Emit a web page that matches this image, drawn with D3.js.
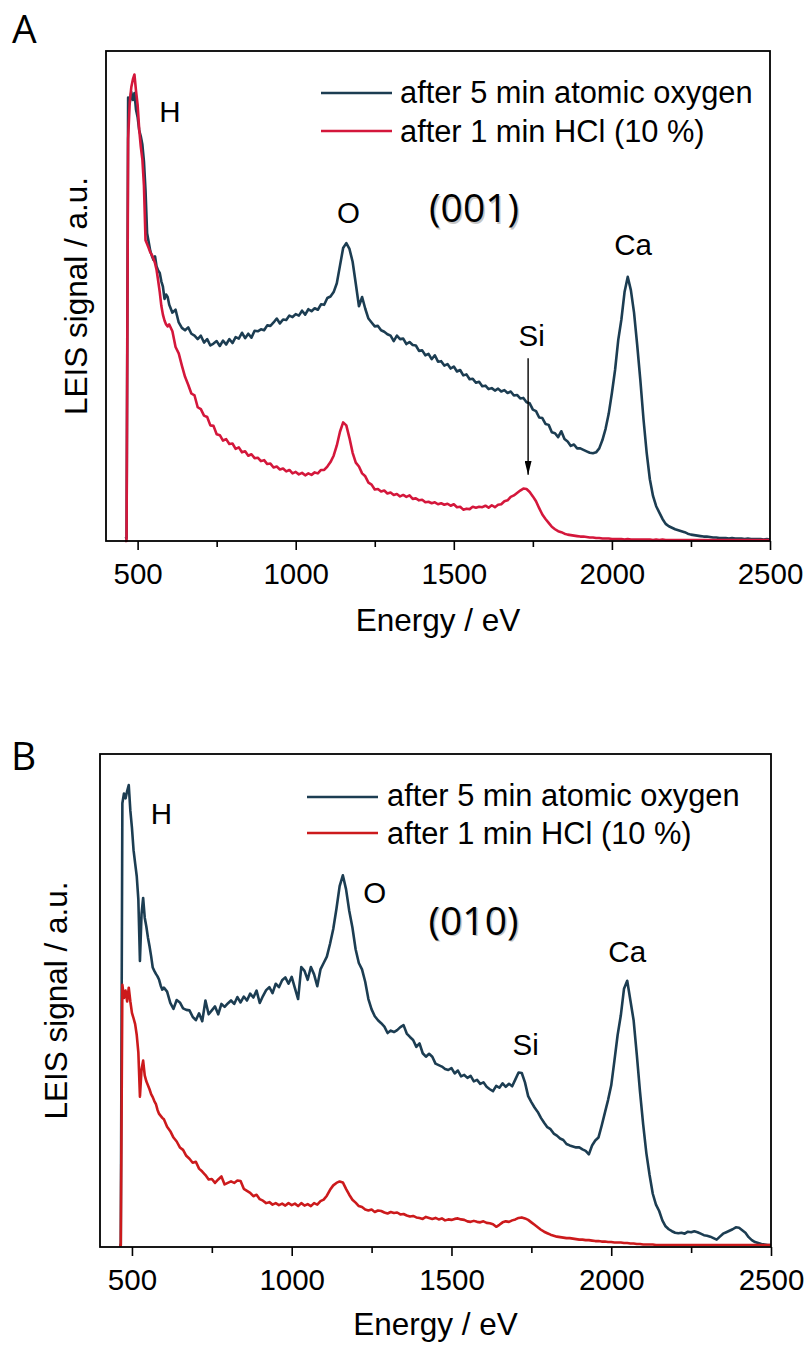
<!DOCTYPE html>
<html>
<head>
<meta charset="utf-8">
<script src="https://cdn.jsdelivr.net/npm/d3@7"></script>
<style>
  body { margin: 0; background: #fff; }
  svg { display: block; }
</style>
</head>
<body>
<svg id="fig" width="810" height="1346"></svg>
<script>
// Energy grid of the LEIS spectra (eV): 5 eV steps across the H edge, 10 eV above
const energyFine = d3.range(460, 600, 5);
const energyCoarse = d3.range(600, 2501, 10);
const energy = energyFine.concat(energyCoarse);

const majorTicks = [500, 1000, 1500, 2000, 2500];
const minorTicks = [750, 1250, 1750, 2250];

const seriesNames = ["after 5 min atomic oxygen", "after 1 min HCl (10 %)"];

// (001) surface, after atomic oxygen
const oxygen001 = [
  0.5, 0.6, 90.5, 89.3, 91.6, 90.0, 91.4, 88.0, 86.5, 83.8,
  82.6, 80.9, 77.5, 71.5, 62.8, 61.0, 59.2, 58.2, 57.4, 58.1,
  56.0, 55.2, 54.7, 53.0, 51.9, 49.4, 50.3, 49.8,
  48.2, 46.6, 47.2, 44.6, 43.5, 43.0, 43.6, 42.3, 41.9, 41.2,   // 600
  41.9, 40.5, 41.2, 39.9, 40.3, 40.8, 39.8, 40.9, 40.1, 41.2,   // 700
  40.4, 41.6, 41.3, 42.5, 41.4, 42.3, 41.5, 42.9, 42.8, 43.2,   // 800
  43.0, 44.0, 43.9, 44.6, 45.4, 44.4, 45.2, 45.1, 46.0, 45.7,   // 900
  46.3, 46.0, 47.0, 46.2, 47.3, 46.9, 47.5, 47.2, 48.3, 48.2,   // 1000
  49.6, 49.9, 50.8, 52.6, 56.2, 59.8, 60.8, 59.6, 57.0, 52.5,   // 1100
  47.9, 49.8, 47.4, 45.4, 44.6, 43.8, 43.9, 43.0, 42.7, 42.2,   // 1200
  41.9, 40.8, 41.9, 41.2, 41.3, 40.2, 40.6, 40.0, 39.9, 38.8,   // 1300
  38.9, 37.9, 38.2, 37.1, 37.9, 36.6, 36.7, 35.8, 36.1, 35.2,   // 1400
  35.6, 34.6, 34.9, 33.8, 34.0, 33.0, 33.1, 32.3, 32.5, 31.6,   // 1500
  31.7, 31.0, 31.2, 30.7, 31.1, 30.5, 30.8, 30.2, 30.5, 29.7,   // 1600
  29.8, 29.1, 29.2, 28.3, 28.1, 26.8, 26.5, 25.2, 25.1, 23.9,   // 1700
  23.7, 22.2, 22.0, 21.2, 22.4, 20.8, 20.3, 19.4, 19.7, 18.9,   // 1800
  18.9, 18.6, 18.3, 18.0, 17.9, 18.1, 18.9, 20.6, 22.9, 26.0,   // 1900
  30.2, 34.9, 41.0, 45.2, 50.8, 53.9, 51.2, 46.6, 40.0, 32.8,   // 2000
  24.8, 18.0, 12.6, 9.2, 7.1, 5.8, 4.5, 3.5, 3.0, 2.7,          // 2100
  2.4, 2.2, 2.0, 1.8, 1.5, 1.3, 1.2, 1.1, 1.0, 0.9,             // 2200
  0.9, 0.8, 0.7, 0.7, 0.6, 0.6, 0.6, 0.5, 0.6, 0.5,             // 2300
  0.5, 0.5, 0.4, 0.5, 0.4, 0.4, 0.4, 0.4, 0.3, 0.4,             // 2400
  0.3
];

// (001) surface, after HCl etch
const hcl001 = [
  0.0, 0.0, 82.0, 89.5, 92.6, 94.2, 95.2, 91.8, 89.0, 84.0,
  80.5, 77.9, 72.5, 61.4, 60.6, 59.8, 58.9, 58.4, 57.6, 56.7,
  55.3, 53.1, 50.8, 48.0, 46.2, 45.0, 44.2, 43.8,
  44.2, 42.8, 39.6, 38.3, 35.8, 33.5, 31.9, 30.1, 29.7, 27.3,   // 600
  26.9, 25.6, 25.3, 23.6, 23.5, 21.8, 21.6, 20.5, 20.8, 19.8,   // 700
  19.9, 18.8, 19.1, 18.1, 18.3, 17.4, 17.7, 16.9, 17.0, 16.3,   // 800
  16.5, 15.7, 15.8, 15.0, 15.2, 14.6, 14.8, 14.2, 14.5, 13.8,   // 900
  14.1, 13.6, 13.9, 13.4, 13.8, 13.5, 14.0, 13.8, 14.5, 14.5,   // 1000
  15.2, 16.1, 17.4, 19.5, 22.3, 24.2, 23.6, 21.0, 18.0, 16.0,   // 1100
  15.2, 13.8, 13.2, 11.9, 11.5, 10.5, 10.6, 10.1, 10.3, 9.7,    // 1200
  9.9, 9.4, 9.6, 9.1, 9.4, 9.0, 9.3, 8.6, 8.7, 8.3,             // 1300
  8.4, 7.9, 8.0, 7.7, 7.9, 7.5, 7.7, 7.4, 7.6, 7.2,             // 1400
  7.5, 6.9, 7.0, 6.4, 6.6, 6.5, 7.0, 6.8, 7.0, 6.9,             // 1500
  7.2, 6.8, 7.3, 6.9, 7.4, 7.5, 8.1, 8.3, 9.0, 9.3,             // 1600
  9.8, 10.3, 10.7, 10.6, 10.0, 9.1, 8.1, 6.7, 5.4, 4.5,         // 1700
  3.7, 2.9, 2.4, 2.0, 1.8, 1.5, 1.3, 1.2, 1.1, 1.0,             // 1800
  0.9, 0.9, 0.8, 0.7, 0.7, 0.6, 0.6, 0.5, 0.5, 0.5,             // 1900
  0.4, 0.4, 0.4, 0.4, 0.3, 0.4, 0.3, 0.3, 0.3, 0.3,             // 2000
  0.3, 0.3, 0.3, 0.2, 0.3, 0.2, 0.3, 0.2, 0.2, 0.2,             // 2100
  0.2, 0.2, 0.2, 0.2, 0.2, 0.2, 0.2, 0.2, 0.2, 0.2,             // 2200
  0.2, 0.2, 0.2, 0.2, 0.2, 0.2, 0.2, 0.2, 0.2, 0.2,             // 2300
  0.2, 0.2, 0.2, 0.2, 0.2, 0.2, 0.2, 0.2, 0.2, 0.2,             // 2400
  0.2
];

// (010) surface, after atomic oxygen
const oxygen010 = [
  0.4, 0.4, 90.0, 92.0, 91.0, 92.5, 93.7, 88.5, 85.0, 80.5,
  77.8, 75.2, 70.5, 58.0, 67.5, 70.8, 66.8, 65.0, 62.8, 61.0,
  59.0, 56.7, 56.0, 55.4, 54.9, 54.2, 53.0, 52.2,
  52.6, 51.8, 49.5, 48.3, 50.1, 49.6, 48.4, 48.1, 48.0, 46.7,   // 600
  46.0, 47.4, 45.8, 50.0, 47.2, 48.0, 48.8, 47.2, 49.3, 48.7,   // 700
  49.4, 50.0, 49.3, 50.7, 49.6, 50.8, 50.0, 51.4, 50.6, 52.0,   // 800
  49.5, 50.9, 52.1, 52.7, 51.5, 53.4, 52.7, 54.1, 54.7, 53.4,   // 900
  54.8, 52.5, 50.3, 56.8, 56.0, 54.2, 56.8, 55.3, 52.9, 56.3,   // 1000
  57.6, 58.9, 61.5, 64.5, 68.6, 73.2, 75.4, 72.6, 68.2, 64.8,   // 1100
  60.4, 57.6, 56.3, 53.8, 50.3, 48.2, 46.8, 46.0, 45.4, 44.7,   // 1200
  43.4, 43.9, 43.6, 44.0, 44.6, 45.0, 43.3, 42.6, 42.0, 40.6,   // 1300
  41.3, 39.3, 38.6, 39.2, 38.6, 37.2, 36.9, 36.6, 36.1, 35.9,   // 1400
  36.3, 35.2, 35.8, 34.6, 34.9, 34.3, 34.7, 33.6, 33.9, 33.1,   // 1500
  33.4, 32.5, 32.0, 31.6, 32.7, 32.3, 33.2, 32.5, 33.1, 32.6,   // 1600
  34.0, 35.4, 35.3, 33.4, 30.6, 29.4, 28.3, 27.4, 26.2, 25.2,   // 1700
  24.3, 23.9, 23.0, 22.6, 22.0, 21.7, 20.9, 20.6, 20.4, 20.2,   // 1800
  20.2, 19.8, 19.5, 18.8, 20.6, 21.6, 22.2, 24.6, 27.2, 29.8,   // 1900
  32.8, 37.8, 43.0, 47.0, 52.4, 54.0, 50.0, 46.0, 39.0, 31.5,   // 2000
  24.8, 19.0, 14.6, 10.8, 8.6, 7.3, 5.4, 4.2, 3.6, 3.2,         // 2100
  2.9, 2.8, 2.9, 2.7, 3.1, 3.0, 3.2, 3.0, 2.7, 2.4,             // 2200
  2.3, 2.1, 1.8, 1.5, 2.1, 2.7, 3.0, 3.3, 3.6, 4.0,             // 2300
  3.9, 3.4, 2.9, 2.0, 1.4, 1.0, 0.8, 0.6, 0.5, 0.4,             // 2400
  0.4
];

// (010) surface, after HCl etch
const hcl010 = [
  0.3, 0.3, 53.2, 50.5, 52.0, 49.8, 52.6, 49.8, 47.5, 46.4,
  45.2, 43.0, 39.5, 30.5, 36.0, 37.8, 34.8, 33.6, 32.8, 32.0,
  31.0, 30.4, 29.6, 29.0, 27.8, 27.0, 26.6, 26.2,
  25.9, 24.4, 23.5, 22.2, 21.4, 20.2, 19.7, 18.5, 17.9, 17.1,   // 600
  17.3, 15.9, 15.3, 14.6, 13.7, 13.8, 13.0, 13.7, 14.3, 12.7,   // 700
  13.0, 13.3, 13.0, 13.5, 13.4, 11.8, 11.4, 11.0, 10.3, 10.6,   // 800
  9.7, 9.4, 8.9, 9.1, 8.6, 8.9, 8.5, 8.8, 8.4, 8.9,             // 900
  8.5, 8.8, 8.3, 8.9, 8.4, 8.7, 8.3, 8.9, 8.6, 9.3,             // 1000
  9.6, 10.4, 11.6, 12.5, 13.0, 13.3, 13.1, 11.8, 10.6, 9.6,     // 1100
  9.0, 8.3, 8.1, 7.6, 7.4, 7.6, 7.1, 7.4, 7.3, 7.0,             // 1200
  6.8, 7.1, 6.9, 7.0, 6.6, 6.7, 6.4, 6.2, 6.3, 6.0,             // 1300
  5.9, 5.7, 6.1, 5.9, 5.7, 5.9, 5.6, 5.8, 5.4, 5.6,             // 1400
  5.5, 5.7, 5.8, 5.6, 5.5, 5.2, 5.1, 5.3, 5.1, 5.0,             // 1500
  5.2, 4.9, 4.8, 4.6, 4.1, 4.5, 5.0, 5.2, 5.1, 5.4,             // 1600
  5.6, 5.9, 6.0, 5.8, 5.5, 5.0, 4.5, 4.0, 3.5, 3.1,             // 1700
  2.8, 2.5, 2.3, 2.1, 2.0, 1.9, 1.8, 1.8, 1.7, 1.6,             // 1800
  1.5, 1.5, 1.4, 1.4, 1.3, 1.2, 1.2, 1.1, 1.1, 1.0,             // 1900
  1.0, 0.9, 0.9, 0.9, 0.8, 0.8, 0.7, 0.7, 0.6, 0.6,             // 2000
  0.5, 0.5, 0.5, 0.5, 0.4, 0.4, 0.4, 0.4, 0.4, 0.4,             // 2100
  0.4, 0.4, 0.4, 0.4, 0.4, 0.4, 0.4, 0.4, 0.4, 0.4,             // 2200
  0.4, 0.4, 0.4, 0.4, 0.4, 0.4, 0.4, 0.4, 0.4, 0.4,             // 2300
  0.4, 0.4, 0.4, 0.4, 0.4, 0.4, 0.4, 0.4, 0.4, 0.4,             // 2400
  0.4
];

// Peak assignments: [label, energy (eV), signal at label baseline]
const peaks001 = [["H", 602, 85.6], ["O", 1167, 64.9], ["Si", 1746, 39.7], ["Ca", 2067, 58.4]];
const peaks010 = [["H", 592, 85.9], ["O", 1260, 69.7], ["Si", 1732, 38.9], ["Ca", 2050, 57.9]];

const SANS = "'Liberation Sans', Arial, sans-serif";
const TITLE = "'Open Sans', 'Noto Sans', sans-serif";
const FS_TICK = 29.5;
const FS_PEAK = 29.5;
const FS_LEGEND = 30.8;
const FS_TITLE = 31.5;
const DARK = "#1c3d52";

const svg = d3.select("#fig");

const panels = [
  {
    letter: "A", letterPos: [12, 43], facet: "(001)", facetAt: [1564, 65.1],
    box: { left: 106, right: 770, top: 51, bottom: 541 },
    oxygen: oxygen001, hcl: hcl001, red: "#d4173b", peaks: peaks001,
    arrow: { e: 1735, from: 37.3, to: 13.5 },
    legend: { x0: 321, x1: 392, tx: 400, y: [93, 131], base: [103, 141.5] },
    yLabelX: 87, xLabelY: 631
  },
  {
    letter: "B", letterPos: [11, 770], facet: "(010)", facetAt: [1569, 63.3],
    box: { left: 100, right: 771, top: 754, bottom: 1247 },
    oxygen: oxygen010, hcl: hcl010, red: "#cc1a1c", peaks: peaks010,
    arrow: null,
    legend: { x0: 307, x1: 378, tx: 387, y: [797, 833], base: [806, 844] },
    yLabelX: 67, xLabelY: 1335
  }
];

// arrowhead drawn along +x so that orient="auto" follows the line direction
const defs = svg.append("defs");
defs.append("marker")
  .attr("id", "arrowHead")
  .attr("viewBox", "0 0 20 10")
  .attr("refX", 20).attr("refY", 5)
  .attr("markerWidth", 14).attr("markerHeight", 7)
  .attr("markerUnits", "userSpaceOnUse")
  .attr("orient", "auto")
  .append("path")
  .attr("d", "M0,0 L20,5 L0,10 Z")
  .attr("fill", "#000");

panels.forEach(p => {
  const b = p.box;
  const x = d3.scaleLinear().domain([400, 2500]).range([b.left, b.right]);
  const y = d3.scaleLinear().domain([0, 100]).range([b.bottom, b.top]);
  const g = svg.append("g");

  // spectra: HCl trace drawn over the oxygen trace
  const line = d3.line().x(d => x(d[0])).y(d => y(d[1]));
  [[p.oxygen, DARK], [p.hcl, p.red]].forEach(([vals, col]) => {
    g.append("path")
      .datum(d3.zip(energy, vals))
      .attr("d", line)
      .attr("fill", "none")
      .attr("stroke", col)
      .attr("stroke-width", 2.6)
      .attr("stroke-linejoin", "round");
  });

  // frame
  g.append("rect")
    .attr("x", b.left).attr("y", b.top)
    .attr("width", b.right - b.left).attr("height", b.bottom - b.top)
    .attr("fill", "none").attr("stroke", "#000").attr("stroke-width", 1.8);

  // x axis: major ticks with labels, minor ticks without
  const ax = g.append("g").attr("transform", `translate(0,${b.bottom})`)
    .call(d3.axisBottom(x).tickValues(majorTicks).tickSize(9).tickSizeOuter(0).tickFormat(d3.format("d")));
  ax.select(".domain").remove();
  ax.selectAll(".tick line").attr("stroke", "#000").attr("stroke-width", 1.6);
  ax.selectAll(".tick text")
    .attr("y", 43).attr("dy", 0)
    .attr("fill", "#000")
    .style("font-family", SANS).style("font-size", FS_TICK + "px");

  const axm = g.append("g").attr("transform", `translate(0,${b.bottom})`)
    .call(d3.axisBottom(x).tickValues(minorTicks).tickSize(6).tickSizeOuter(0).tickFormat(""));
  axm.select(".domain").remove();
  axm.selectAll(".tick line").attr("stroke", "#000").attr("stroke-width", 1.6);

  // axis titles
  g.append("text")
    .attr("x", (b.left + b.right) / 2).attr("y", p.xLabelY)
    .attr("text-anchor", "middle")
    .style("font-family", SANS).style("font-size", FS_TITLE + "px")
    .text("Energy / eV");
  g.append("text")
    .attr("transform", `translate(${p.yLabelX},${(b.top + b.bottom) / 2}) rotate(-90)`)
    .attr("text-anchor", "middle")
    .style("font-family", SANS).style("font-size", FS_TITLE + "px")
    .text("LEIS signal / a.u.");

  // panel letter
  g.append("text")
    .attr("x", p.letterPos[0]).attr("y", p.letterPos[1])
    .style("font-family", TITLE).style("font-size", "39px")
    .text(p.letter);

  // surface orientation, with a soft drop shadow
  const fx = x(p.facetAt[0]), fy = y(p.facetAt[1]);
  g.append("text")
    .attr("x", fx + 1.5).attr("y", fy + 1.5)
    .attr("text-anchor", "middle")
    .attr("fill", "#999").attr("opacity", 0.55)
    .style("font-family", TITLE).style("font-size", "39px")
    .text(p.facet);
  g.append("text")
    .attr("x", fx).attr("y", fy)
    .attr("text-anchor", "middle")
    .style("font-family", TITLE).style("font-size", "39px")
    .text(p.facet);

  // element labels
  g.selectAll("text.peak")
    .data(p.peaks)
    .join("text")
    .attr("class", "peak")
    .attr("x", d => x(d[1])).attr("y", d => y(d[2]))
    .attr("text-anchor", "middle")
    .style("font-family", SANS).style("font-size", FS_PEAK + "px")
    .text(d => d[0]);

  // arrow pointing to the Si signal
  if (p.arrow) {
    g.append("line")
      .attr("x1", x(p.arrow.e)).attr("x2", x(p.arrow.e))
      .attr("y1", y(p.arrow.from)).attr("y2", y(p.arrow.to))
      .attr("stroke", "#000").attr("stroke-width", 1.4)
      .attr("marker-end", "url(#arrowHead)");
  }

  // legend
  const L = p.legend;
  [DARK, p.red].forEach((col, i) => {
    g.append("line")
      .attr("x1", L.x0).attr("x2", L.x1)
      .attr("y1", L.y[i]).attr("y2", L.y[i])
      .attr("stroke", col).attr("stroke-width", 2.6);
    g.append("text")
      .attr("x", L.tx).attr("y", L.base[i])
      .style("font-family", SANS).style("font-size", FS_LEGEND + "px")
      .text(seriesNames[i]);
  });
});
</script>
</body>
</html>
